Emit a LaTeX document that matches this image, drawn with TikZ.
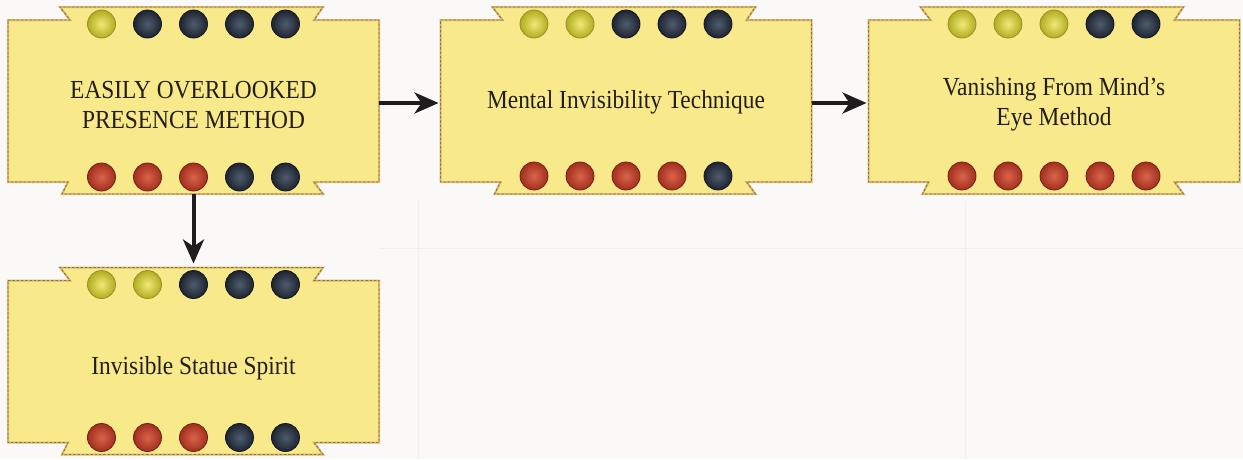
\documentclass[tikz,border=0pt]{standalone}
\usepackage{fontspec}
\newfontfamily\lblfont[FakeStretch=0.9]{Liberation Serif}
\usetikzlibrary{arrows.meta,calc}
\pgfdeclarelayer{bg}
\pgfsetlayers{bg,main}
\definecolor{paper}{RGB}{250,249,247}
\definecolor{gridline}{RGB}{241,239,235}
\definecolor{ribbonfill}{RGB}{248,233,138}
\definecolor{ribbonedge}{RGB}{214,186,112}
\definecolor{ribbondash}{RGB}{150,112,52}
\definecolor{txt}{RGB}{35,30,28}
\definecolor{arrowc}{RGB}{30,28,28}
\definecolor{yin}{RGB}{240,234,118}
\definecolor{yout}{RGB}{178,172,34}
\definecolor{yedge}{RGB}{150,146,40}
\definecolor{kin}{RGB}{78,92,110}
\definecolor{kout}{RGB}{30,36,48}
\definecolor{kedge}{RGB}{20,24,32}
\definecolor{rin}{RGB}{218,100,74}
\definecolor{rout}{RGB}{162,46,30}
\definecolor{redge}{RGB}{112,36,24}
\tikzset{
  box/.style={minimum width=371pt, minimum height=187pt, inner sep=0pt, outer sep=0pt},
  lbl/.style={align=center, inner sep=0pt, font=\lblfont\fontsize{26}{30}\selectfont, text=txt},
  ribbonbase/.style={fill=ribbonfill, draw=ribbonedge, line width=2pt, line join=miter},
  ribbonline/.style={draw=ribbondash, line width=0.9pt, dash pattern=on 2.5pt off 1.8pt},
  pegy/.style={shading=radial, inner color=yin, outer color=yout, draw=yedge, line width=0.8pt},
  pegk/.style={shading=radial, inner color=kin, outer color=kout, draw=kedge, line width=0.8pt},
  pegr/.style={shading=radial, inner color=rin, outer color=rout, draw=redge, line width=0.8pt},
  flow/.style={draw=arrowc, line width=4pt, -{Stealth[length=24pt,width=21pt,inset=7pt]}}
}
\newcommand\ribbonpath[1]{%
  ($(#1.north west)+(0,13)$) -- ($(#1.north west)+(62,13)$) -- ($(#1.north west)+(52,0)$)
  -- ($(#1.north east)+(-56,0)$) -- ($(#1.north east)+(-65,13)$) -- ($(#1.north east)+(0,13)$)
  -- ($(#1.south east)+(0,-12)$) -- ($(#1.south east)+(-65,-12)$) -- ($(#1.south east)+(-56,0)$)
  -- ($(#1.south west)+(54,0)$) -- ($(#1.south west)+(60,-12)$) -- ($(#1.south west)+(0,-12)$) -- cycle}
\newcommand\pegrow[3]{%
  \foreach \c [count=\i] in {#3}{%
    \path[peg\c] ($(#1)+({(\i-3)*46},#2)$) circle[radius=14pt];}}
\begin{document}
\begin{tikzpicture}[x=1pt,y=-1pt]
\useasboundingbox (0,0) rectangle (1243,459);

\node[box] (b1) at (193.5,100.5) {};
\node[box] (b2) at (626,100.5) {};
\node[box] (b3) at (1054,100.5) {};
\node[box] (b4) at (193.5,361) {};

\node[lbl] (t1) at ([yshift=-5pt]b1.center) {EASILY OVERLOOKED\\PRESENCE METHOD};
\node[lbl] (t2) at ([yshift=-2pt]b2.center) {Mental Invisibility Technique};
\node[lbl] (t3) at ([yshift=-4pt]b3.center) {Vanishing From Mind’s\\Eye Method};
\node[lbl] (t4) at ([yshift=-7pt]b4.center) {Invisible Statue Spirit};

\begin{pgfonlayer}{bg}
  \fill[paper] (0,0) rectangle (1243,459);
  \draw[gridline, line width=1pt] (418,200) -- (418,459);
  \draw[gridline, line width=1pt] (965,200) -- (965,459);
  \draw[gridline, line width=1pt] (380,248) -- (1243,248);
  \foreach \b in {b1,b2,b3,b4}{
    \path[ribbonbase] \ribbonpath{\b};
    \path[ribbonline] \ribbonpath{\b};
  }
\end{pgfonlayer}

\pegrow{b1.north}{17}{y,k,k,k,k}
\pegrow{b1.south}{-17}{r,r,r,k,k}
\pegrow{b2.north}{17}{y,y,k,k,k}
\pegrow{b2.south}{-18}{r,r,r,r,k}
\pegrow{b3.north}{17}{y,y,y,k,k}
\pegrow{b3.south}{-18}{r,r,r,r,r}
\pegrow{b4.north}{17}{y,y,k,k,k}
\pegrow{b4.south}{-17}{r,r,r,k,k}

\draw[flow, shorten >=2pt] ([yshift=-2.5pt]b1.east) -- ([yshift=-2.5pt]b2.west);
\draw[flow, shorten >=2pt] ([yshift=-2.5pt]b2.east) -- ([yshift=-2.5pt]b3.west);
\draw[flow, shorten >=4pt] (b1.south) -- (b4.north);
\end{tikzpicture}
\end{document}
